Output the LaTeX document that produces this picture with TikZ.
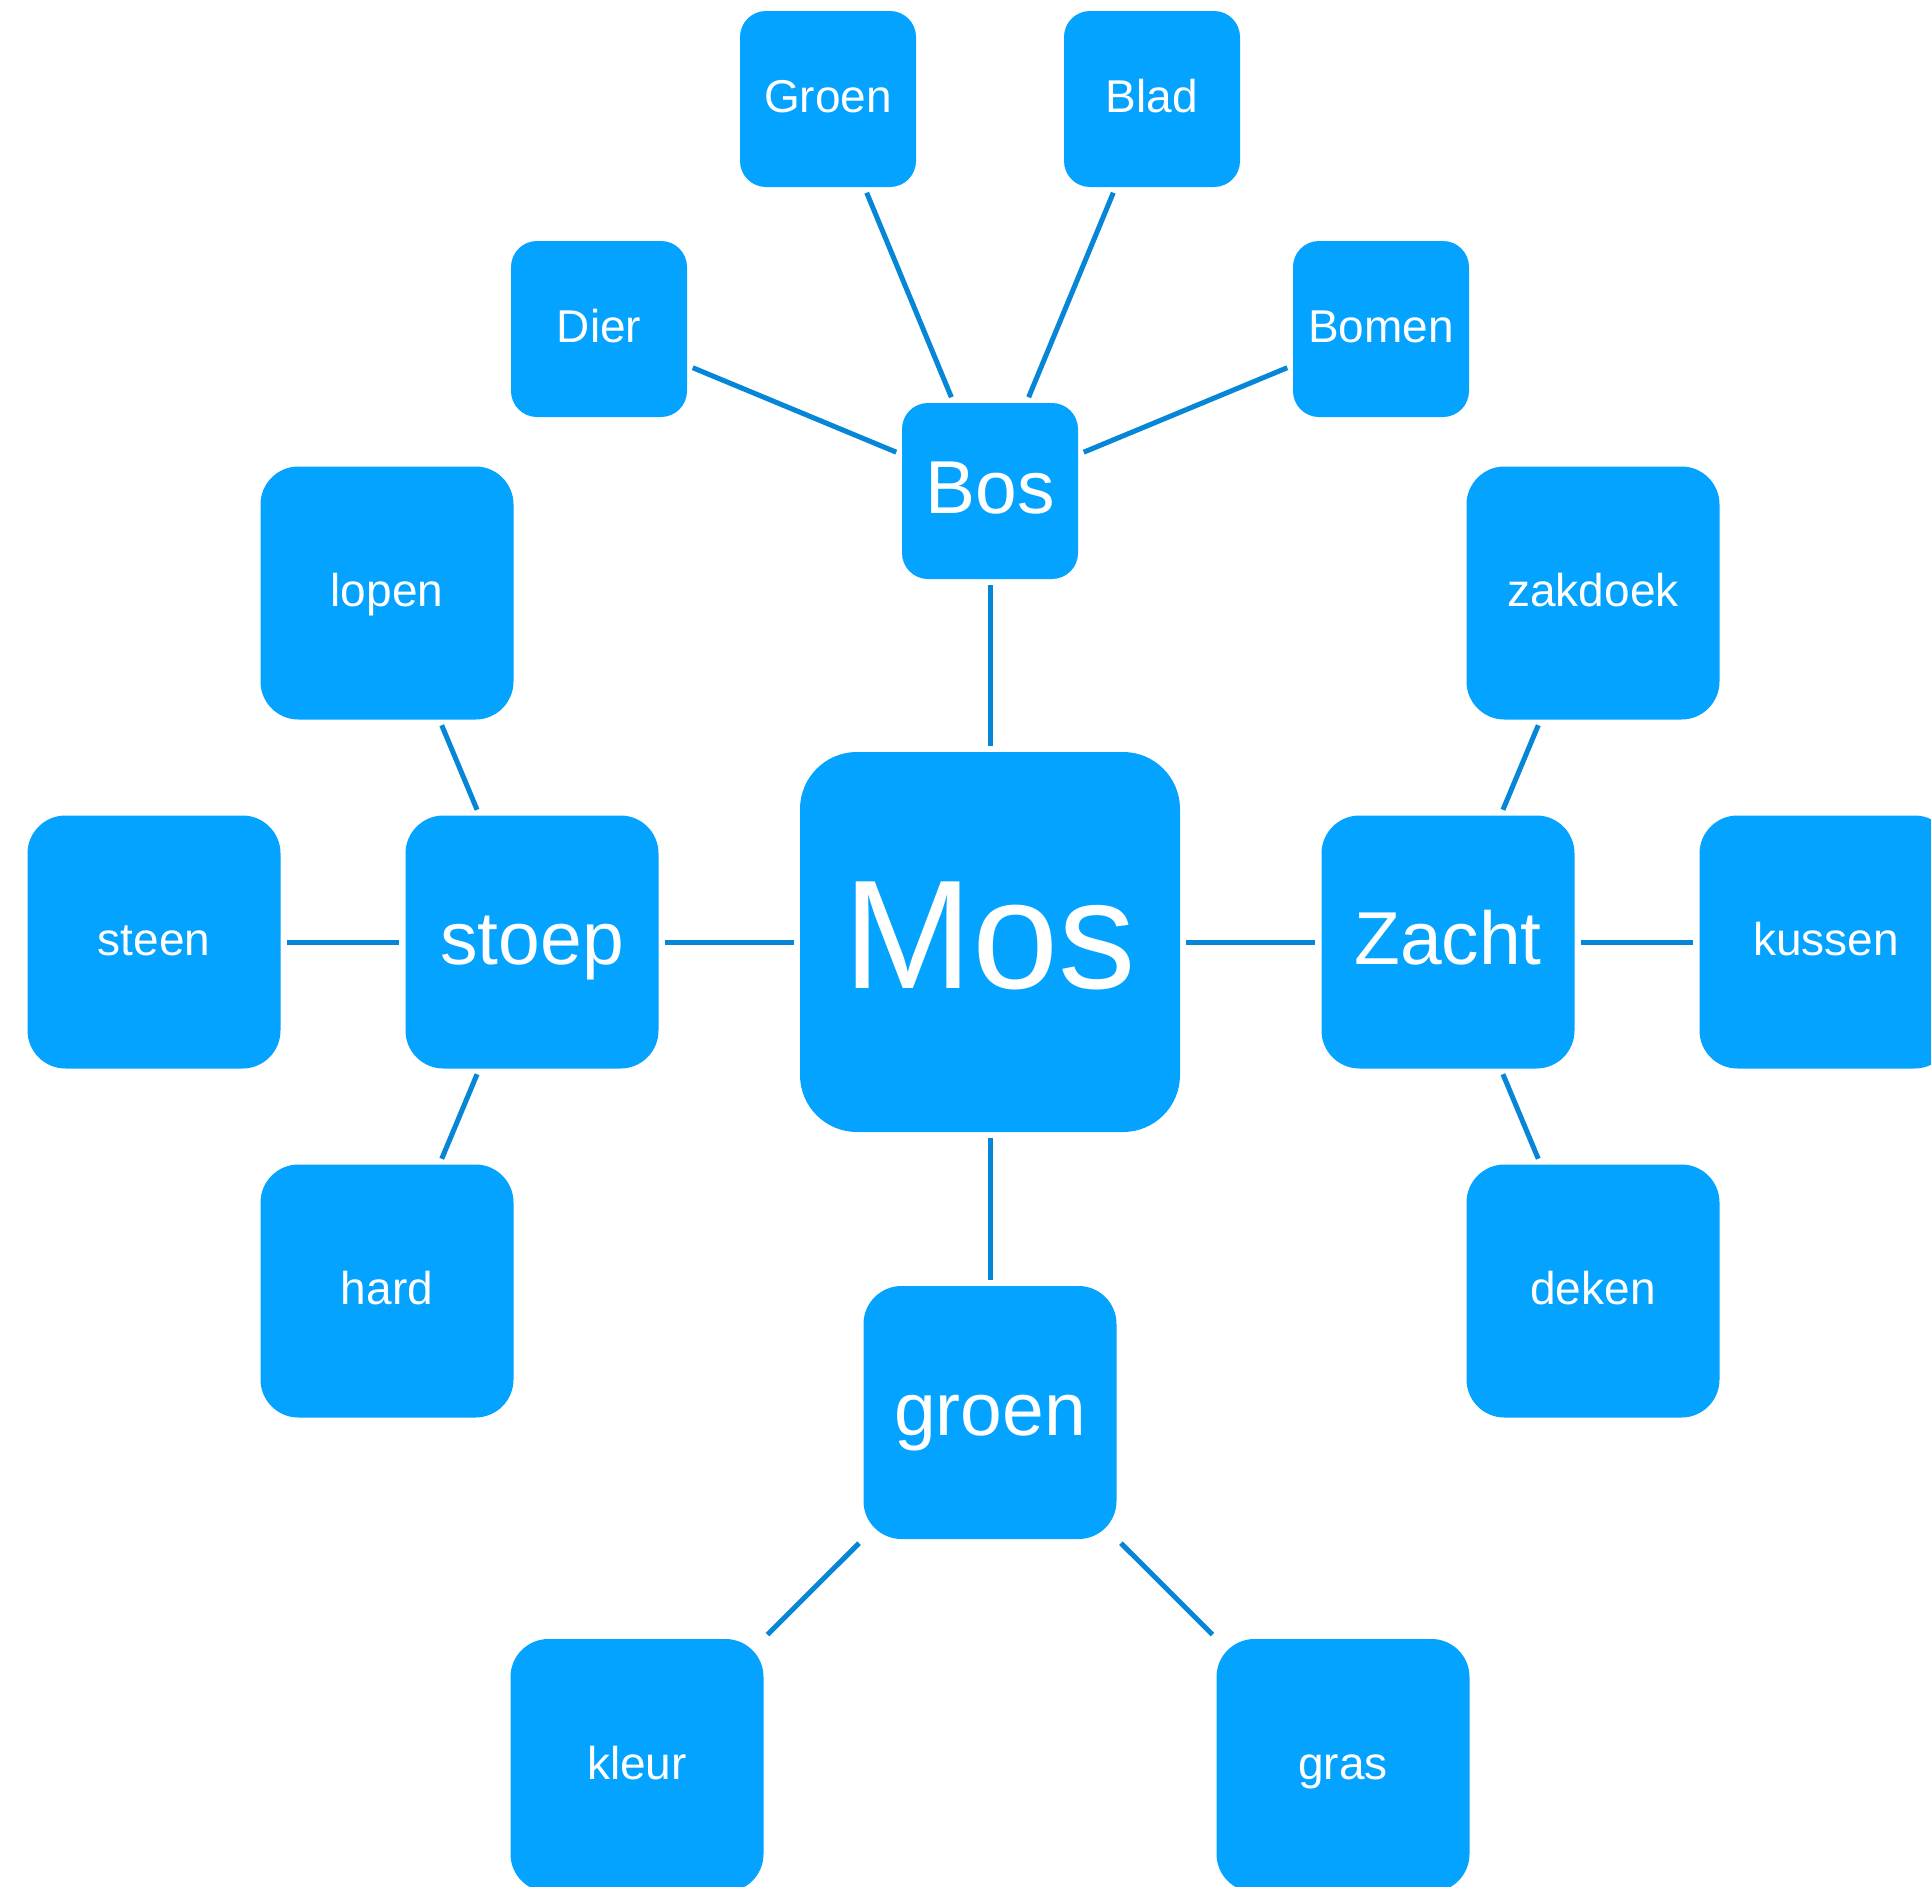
\documentclass[tikz,border=0pt]{standalone}
\usepackage{fontspec}
\setmainfont{Liberation Sans}
\definecolor{nodefill}{RGB}{3,163,255}
\definecolor{edgecol}{RGB}{6,134,214}
\tikzset{
  box/.style={fill=nodefill, draw=none, text=white, inner sep=0pt, anchor=center},
  bigbox/.style={box, minimum width=380pt, minimum height=380pt, rounded corners=57pt,
    font=\fontsize{155}{160}\selectfont, text height=93pt, text depth=0pt},
  midbox/.style={box, minimum width=253pt, minimum height=253pt, rounded corners=38pt,
    font=\fontsize{75}{80}\selectfont, text height=45pt, text depth=0pt},
  bosbox/.style={box, minimum width=176pt, minimum height=176pt, rounded corners=26pt,
    font=\fontsize{75}{80}\selectfont, text height=45pt, text depth=0pt},
  smallleaf/.style={box, minimum width=176pt, minimum height=176pt, rounded corners=26pt,
    font=\fontsize{46}{50}\selectfont, text height=27.6pt, text depth=0pt},
  bigleaf/.style={box, minimum width=253pt, minimum height=253pt, rounded corners=38pt,
    font=\fontsize{46}{50}\selectfont, text height=27.6pt, text depth=0pt},
  link/.style={draw=edgecol, line width=5pt, shorten >=6pt, shorten <=6pt}
}
\begin{document}
\begin{tikzpicture}[x=1pt,y=-1pt]
\useasboundingbox (0,0) rectangle (1931,1887);
\clip (0,0) rectangle (1931,1887);
\fill[white] (0,0) rectangle (1931,1887);

\node[bigbox] (mos) at (990,942) {Mos};
\node[bosbox] (bos) at (990,491) {Bos};
\node[smallleaf] (groenT) at (828,99) {Groen};
\node[smallleaf] (blad) at (1152,99) {Blad};
\node[smallleaf] (dier) at (599,329) {Dier};
\node[smallleaf] (bomen) at (1381,329) {Bomen};

\node[midbox] (stoep) at (532,942) {stoep};
\node[bigleaf] (steen) at (154,942) {steen};
\node[bigleaf] (lopen) at (387,593) {lopen};
\node[bigleaf] (hard) at (387,1291) {hard};

\node[midbox] (zacht) at (1448,942) {Zacht};
\node[bigleaf] (kussen) at (1826,942) {kussen};
\node[bigleaf] (zakdoek) at (1593,593) {zakdoek};
\node[bigleaf] (deken) at (1593,1291) {deken};

\node[midbox] (groen) at (990,1412.5) {groen};
\node[bigleaf] (kleur) at (637,1765.5) {kleur};
\node[bigleaf] (gras) at (1343,1765.5) {gras};

\draw[link] (mos) -- (bos);
\draw[link] (mos) -- (stoep);
\draw[link] (mos) -- (zacht);
\draw[link] (mos) -- (groen);
\draw[link] (bos) -- (groenT);
\draw[link] (bos) -- (blad);
\draw[link] (bos) -- (dier);
\draw[link] (bos) -- (bomen);
\draw[link] (stoep) -- (steen);
\draw[link] (stoep) -- (lopen);
\draw[link] (stoep) -- (hard);
\draw[link] (zacht) -- (kussen);
\draw[link] (zacht) -- (zakdoek);
\draw[link] (zacht) -- (deken);
\draw[link] (groen) -- (kleur);
\draw[link] (groen) -- (gras);
\end{tikzpicture}
\end{document}
